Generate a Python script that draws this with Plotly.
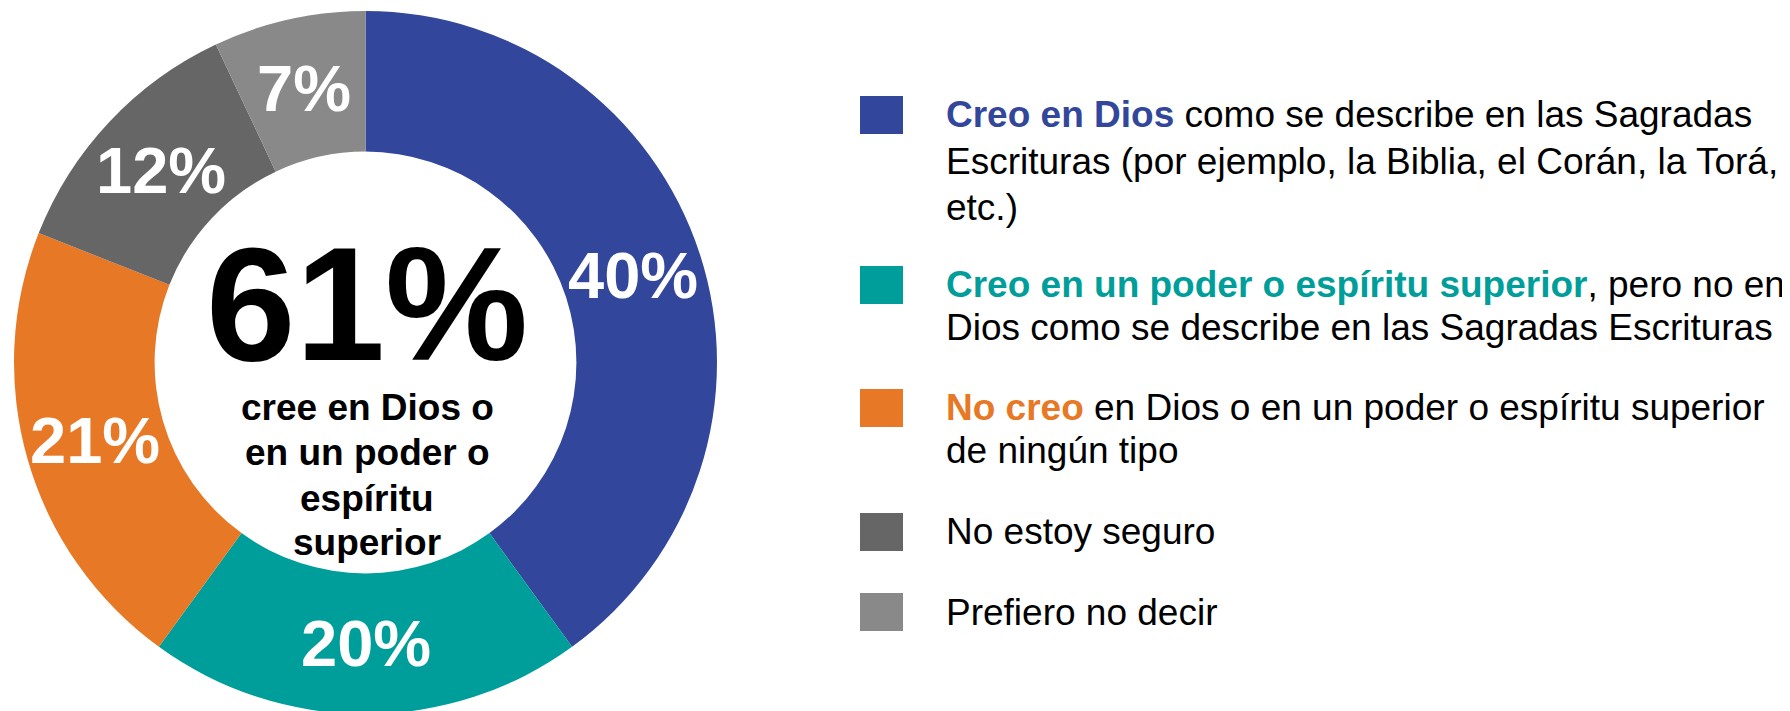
import math
import plotly.graph_objects as go

# The page body has a default 8px margin, so the figure sits 8px in from the
# window's top-left corner; screen positions below are converted accordingly.
OFFSET = 8
WF, HF = 1782, 709

# ---- data ----
categories = [
    "Creo en Dios",
    "Creo en un poder o espíritu superior",
    "No creo",
    "No estoy seguro",
    "Prefiero no decir",
]
values = [40, 20, 21, 12, 7]
slice_colors = ["#32479B", "#009E9A", "#E77825", "#666666", "#898989"]

center_value = "61%"
center_caption_lines = ["cree en Dios o", "en un poder o", "espíritu", "superior"]

legend_bold = [
    "Creo en Dios",
    "Creo en un poder o espíritu superior",
    "No creo",
    "",
    "",
]
legend_lines = [
    [" como se describe en las Sagradas",
     "Escrituras (por ejemplo, la Biblia, el Corán, la Torá,",
     "etc.)"],
    [", pero no en",
     "Dios como se describe en las Sagradas Escrituras"],
    [" en Dios o en un poder o espíritu superior",
     "de ningún tipo"],
    ["No estoy seguro"],
    ["Prefiero no decir"],
]

FONT = "Liberation Sans, Arial, sans-serif"
HOLE = 0.6


def px_x(v):
    return (v - OFFSET) / WF


def px_y(v):
    return 1 - (v - OFFSET) / HF


# pie domain (screen px)
dom_x0, dom_x1 = 14, 717
dom_y0, dom_y1 = OFFSET, OFFSET + HF

fig = go.Figure()
fig.add_trace(go.Pie(
    labels=categories,
    values=values,
    marker=dict(colors=slice_colors, line=dict(width=0)),
    hole=HOLE,
    sort=False,
    direction="clockwise",
    rotation=0,
    textinfo="none",
    domain=dict(x=[px_x(dom_x0), px_x(dom_x1)], y=[0, 1]),
    showlegend=False,
    hoverinfo="label+value",
))

annotations = []

# slice labels at each slice's mid-angle, halfway through the ring
cx = (dom_x0 + dom_x1) / 2
cy = (dom_y0 + dom_y1) / 2
R = min(dom_x1 - dom_x0, dom_y1 - dom_y0) / 2
r_lab = R * (1 + HOLE) / 2
total = sum(values)
cum = 0
for v in values:
    mid = (cum + v / 2) / total * 2 * math.pi
    cum += v
    lx = cx + r_lab * math.sin(mid)
    ly = cy - r_lab * math.cos(mid)
    annotations.append(dict(
        x=px_x(lx), y=px_y(ly), xref="paper", yref="paper",
        text="<b>%d%%</b>" % v, showarrow=False,
        font=dict(family=FONT, size=65, color="white"),
        xanchor="center", yanchor="middle",
    ))

# center text
annotations.append(dict(
    x=px_x(367), y=px_y(304), xref="paper", yref="paper",
    text="<b>%s</b>" % center_value, showarrow=False,
    font=dict(family=FONT, size=161, color="black"),
    xanchor="center", yanchor="middle",
))
cap_y = [407, 452, 498, 542]
for line, yy in zip(center_caption_lines, cap_y):
    annotations.append(dict(
        x=px_x(367), y=px_y(yy), xref="paper", yref="paper",
        text="<b>%s</b>" % line, showarrow=False,
        font=dict(family=FONT, size=37, color="black"),
        xanchor="center", yanchor="middle",
    ))

# legend
line_y = [
    [115, 161, 207],
    [284, 327],
    [407, 450],
    [531],
    [612],
]
square_cy = [115, 285, 408, 532, 612]
shapes = []
for i in range(len(categories)):
    sy = square_cy[i]
    shapes.append(dict(
        type="rect", xref="paper", yref="paper",
        x0=px_x(860), x1=px_x(903), y0=px_y(sy + 19), y1=px_y(sy - 19),
        fillcolor=slice_colors[i], line=dict(width=0),
    ))
    for j, (txt, yy) in enumerate(zip(legend_lines[i], line_y[i])):
        if j == 0 and legend_bold[i]:
            txt = "<b><span style='color:%s'>%s</span></b>%s" % (
                slice_colors[i], legend_bold[i], txt)
        annotations.append(dict(
            x=px_x(944), y=px_y(yy), xref="paper", yref="paper",
            text=txt, showarrow=False,
            font=dict(family=FONT, size=37, color="black"),
            xanchor="left", yanchor="middle", align="left",
        ))

fig.update_layout(
    width=WF, height=HF,
    margin=dict(l=0, r=0, t=0, b=0),
    paper_bgcolor="white", plot_bgcolor="white",
    annotations=annotations,
    shapes=shapes,
)

fig.write_html("out.html")
